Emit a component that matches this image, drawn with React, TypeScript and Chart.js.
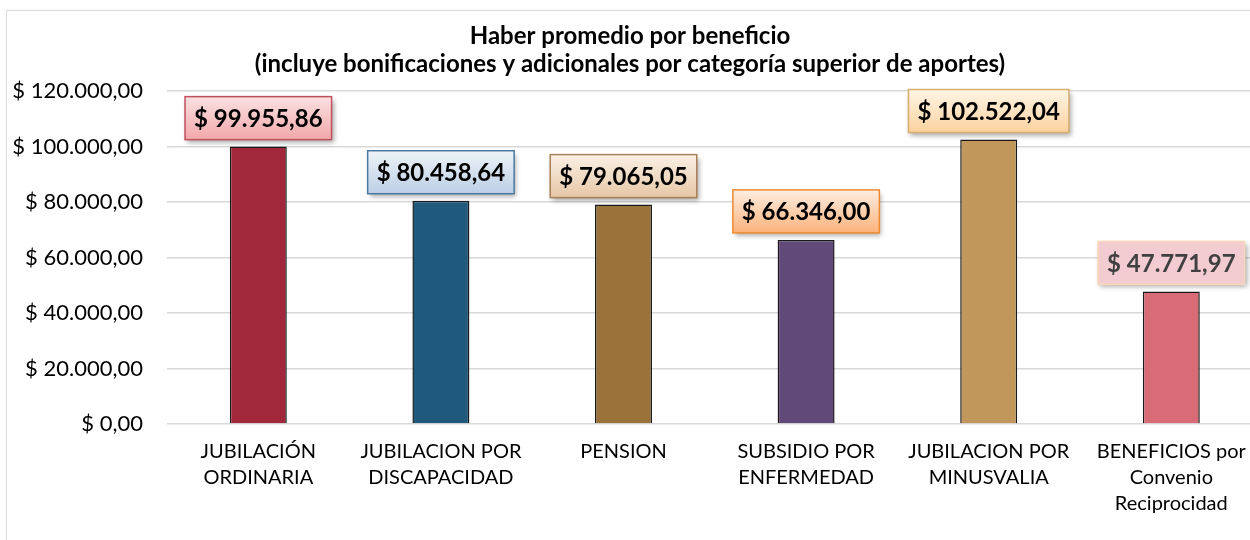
import React, { useEffect, useRef } from "react";
import { Chart, registerables } from "chart.js";

Chart.register(...registerables);

const categories: string[][] = [
  ["JUBILACIÓN", "ORDINARIA"],
  ["JUBILACION POR", "DISCAPACIDAD"],
  ["PENSION"],
  ["SUBSIDIO POR", "ENFERMEDAD"],
  ["JUBILACION POR", "MINUSVALIA"],
  ["BENEFICIOS por", "Convenio", "Reciprocidad"],
];
const values: number[] = [99955.86, 80458.64, 79065.05, 66346.0, 102522.04, 47771.97];
const barColors: string[] = ["#a0283a", "#1f5a7c", "#9a723a", "#614a7a", "#c1975b", "#d96b76"];
const labelBorders: string[] = ["#c0505d", "#4a7aa0", "#a88055", "#f08a30", "#d8ae6e", "#f8d7b8"];
const labelTop: string[] = ["#fbe1e1", "#eef3f8", "#faf0e5", "#fdeee2", "#fff5e6", "#f2ccd1"];
const labelBottom: string[] = ["#f2a8ab", "#bccfe5", "#e6c7a6", "#fbb27a", "#fcd29f", "#f2ccd1"];
const labelText: string[] = ["#000000", "#000000", "#000000", "#000000", "#000000", "#404040"];
const titleLines: string[] = [
  "Haber promedio por beneficio",
  "(incluye bonificaciones y adicionales por categoría superior de aportes)",
];
const yMin = 0;
const yMax = 120000;
const yStep = 20000;

const FONT = "Lato, 'Open Sans', sans-serif";

function fmtMoney(v: number): string {
  const fixed = Math.abs(v).toFixed(2);
  const [ip, dp] = fixed.split(".");
  const withDots = ip.replace(/\B(?=(\d{3})+(?!\d))/g, ".");
  return "$ " + withDots + "," + dp;
}

const titlePlugin = {
  id: "customTitle",
  afterDraw(chart: any) {
    const ctx = chart.ctx;
    ctx.save();
    ctx.fillStyle = "#000000";
    ctx.textAlign = "center";
    ctx.textBaseline = "middle";
    ctx.font = `bold 24px ${FONT}`;
    ctx.fillText(titleLines[0], 630, 36);
    ctx.fillText(titleLines[1], 630, 64);
    ctx.restore();
  },
};

const labelPlugin = {
  id: "boxLabels",
  afterDatasetsDraw(chart: any) {
    const ctx = chart.ctx;
    const meta = chart.getDatasetMeta(0);
    ctx.save();
    ctx.font = `bold 24px ${FONT}`;
    meta.data.forEach((bar: any, i: number) => {
      const text = fmtMoney(values[i]);
      const tw = ctx.measureText(text).width;
      const w = tw + 18;
      const h = 43;
      const x = bar.x - w / 2;
      const y = bar.y - 7 - h;
      const g = ctx.createLinearGradient(0, y, 0, y + h);
      g.addColorStop(0, labelTop[i]);
      g.addColorStop(1, labelBottom[i]);
      ctx.save();
      ctx.shadowColor = "rgba(0,0,0,0.35)";
      ctx.shadowBlur = 5;
      ctx.shadowOffsetX = 2;
      ctx.shadowOffsetY = 3;
      ctx.fillStyle = g;
      ctx.fillRect(x, y, w, h);
      ctx.restore();
      ctx.strokeStyle = labelBorders[i];
      ctx.lineWidth = 1.5;
      ctx.strokeRect(x, y, w, h);
      ctx.fillStyle = labelText[i];
      ctx.textAlign = "center";
      ctx.textBaseline = "middle";
      ctx.fillText(text, bar.x, y + h / 2 + 1);
    });
    ctx.restore();
  },
};

export default function App() {
  const ref = useRef<HTMLCanvasElement | null>(null);
  useEffect(() => {
    if (!ref.current) return;
    const chart = new Chart(ref.current, {
      type: "bar",
      data: {
        labels: categories,
        datasets: [
          {
            data: values,
            backgroundColor: barColors,
            borderColor: "#1a1a1a",
            borderWidth: 1.5,
            barPercentage: 0.312,
            categoryPercentage: 1,
          },
        ],
      },
      options: {
        responsive: false,
        animation: false,
        layout: { padding: { top: 91, left: 0, right: 27.4, bottom: 0 } },
        plugins: {
          legend: { display: false },
          title: { display: false },
          tooltip: { enabled: false },
        },
        scales: {
          x: {
            grid: { display: false, drawTicks: false },
            border: { display: false },
            ticks: {
              color: "#000000",
              font: { family: FONT, size: 20, lineHeight: 1.3 },
              padding: 15,
              maxRotation: 0,
              autoSkip: false,
            },
            afterFit(scale: any) {
              scale.height = 116;
            },
          },
          y: {
            min: yMin,
            max: yMax,
            grid: { color: "#d9d9d9", lineWidth: 1.5, drawTicks: false },
            border: { display: false },
            ticks: {
              stepSize: yStep,
              color: "#000000",
              font: { family: FONT, size: 22 },
              padding: 24,
              callback: (v: any) => fmtMoney(Number(v)),
            },
            afterFit(scale: any) {
              scale.width = 167;
            },
          },
        },
      },
      plugins: [titlePlugin, labelPlugin],
    });
    return () => chart.destroy();
  }, []);

  return (
    <div
      style={{
        position: "fixed",
        left: 0,
        top: 0,
        width: 1250,
        height: 540,
        overflow: "hidden",
        background: "#ffffff",
      }}
    >
      <div
        style={{
          position: "absolute",
          left: 6,
          top: 10,
          width: 1400,
          height: 700,
          border: "1px solid #d9d9d9",
          boxSizing: "border-box",
        }}
      />
      <canvas
        ref={ref}
        width={1290}
        height={540}
        style={{ position: "absolute", left: 0, top: 0, width: 1290, height: 540 }}
      />
    </div>
  );
}
